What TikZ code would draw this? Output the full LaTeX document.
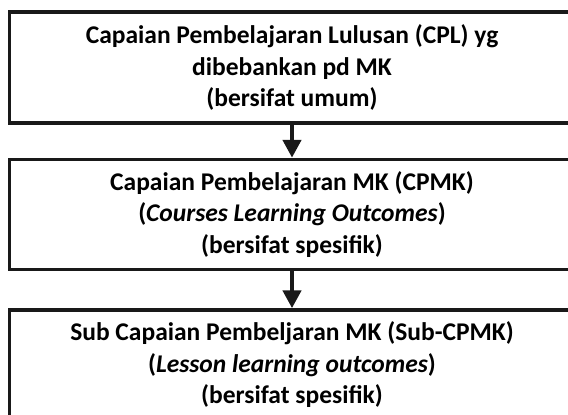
\documentclass[tikz,border=0pt]{standalone}
\usepackage{fontspec}
\setmainfont{Carlito}
\usetikzlibrary{arrows.meta}

\tikzset{
  levelbox/.style={draw=black!90, line width=3.5pt, minimum width=564.6pt,
    align=center, inner sep=0pt, font=\fontsize{25.5}{31.5}\selectfont\bfseries},
  levelarrow/.style={draw=black!90, line width=4.6pt,
    -{Triangle[width=18pt,length=18pt]}}
}

\begin{document}
\begin{tikzpicture}[x=1pt,y=1pt]
  \useasboundingbox (0,0) rectangle (568,-415);
  \clip (0,0) rectangle (568,-415);

  % levels
  \node [levelbox, minimum height=111pt] (cpl) at (292,-67.5)
    {Capaian Pembelajaran Lulusan (CPL) yg\\dibebankan pd MK\\(bersifat umum)};
  \node [levelbox, minimum height=110pt] (cpmk) at (292,-214.5)
    {Capaian Pembelajaran MK (CPMK)\\(\textit{Courses Learning Outcomes})\\(bersifat spesifik)};
  \node [levelbox, minimum height=110pt] (subcpmk) at (292,-365)
    {Sub Capaian Pembeljaran MK (Sub-CPMK)\\(\textit{Lesson learning outcomes})\\(bersifat spesifik)};

  % arrows
  \draw [levelarrow] (cpl.south) -- (cpmk.north);
  \draw [levelarrow] (cpmk.south) -- (subcpmk.north);
\end{tikzpicture}
\end{document}
